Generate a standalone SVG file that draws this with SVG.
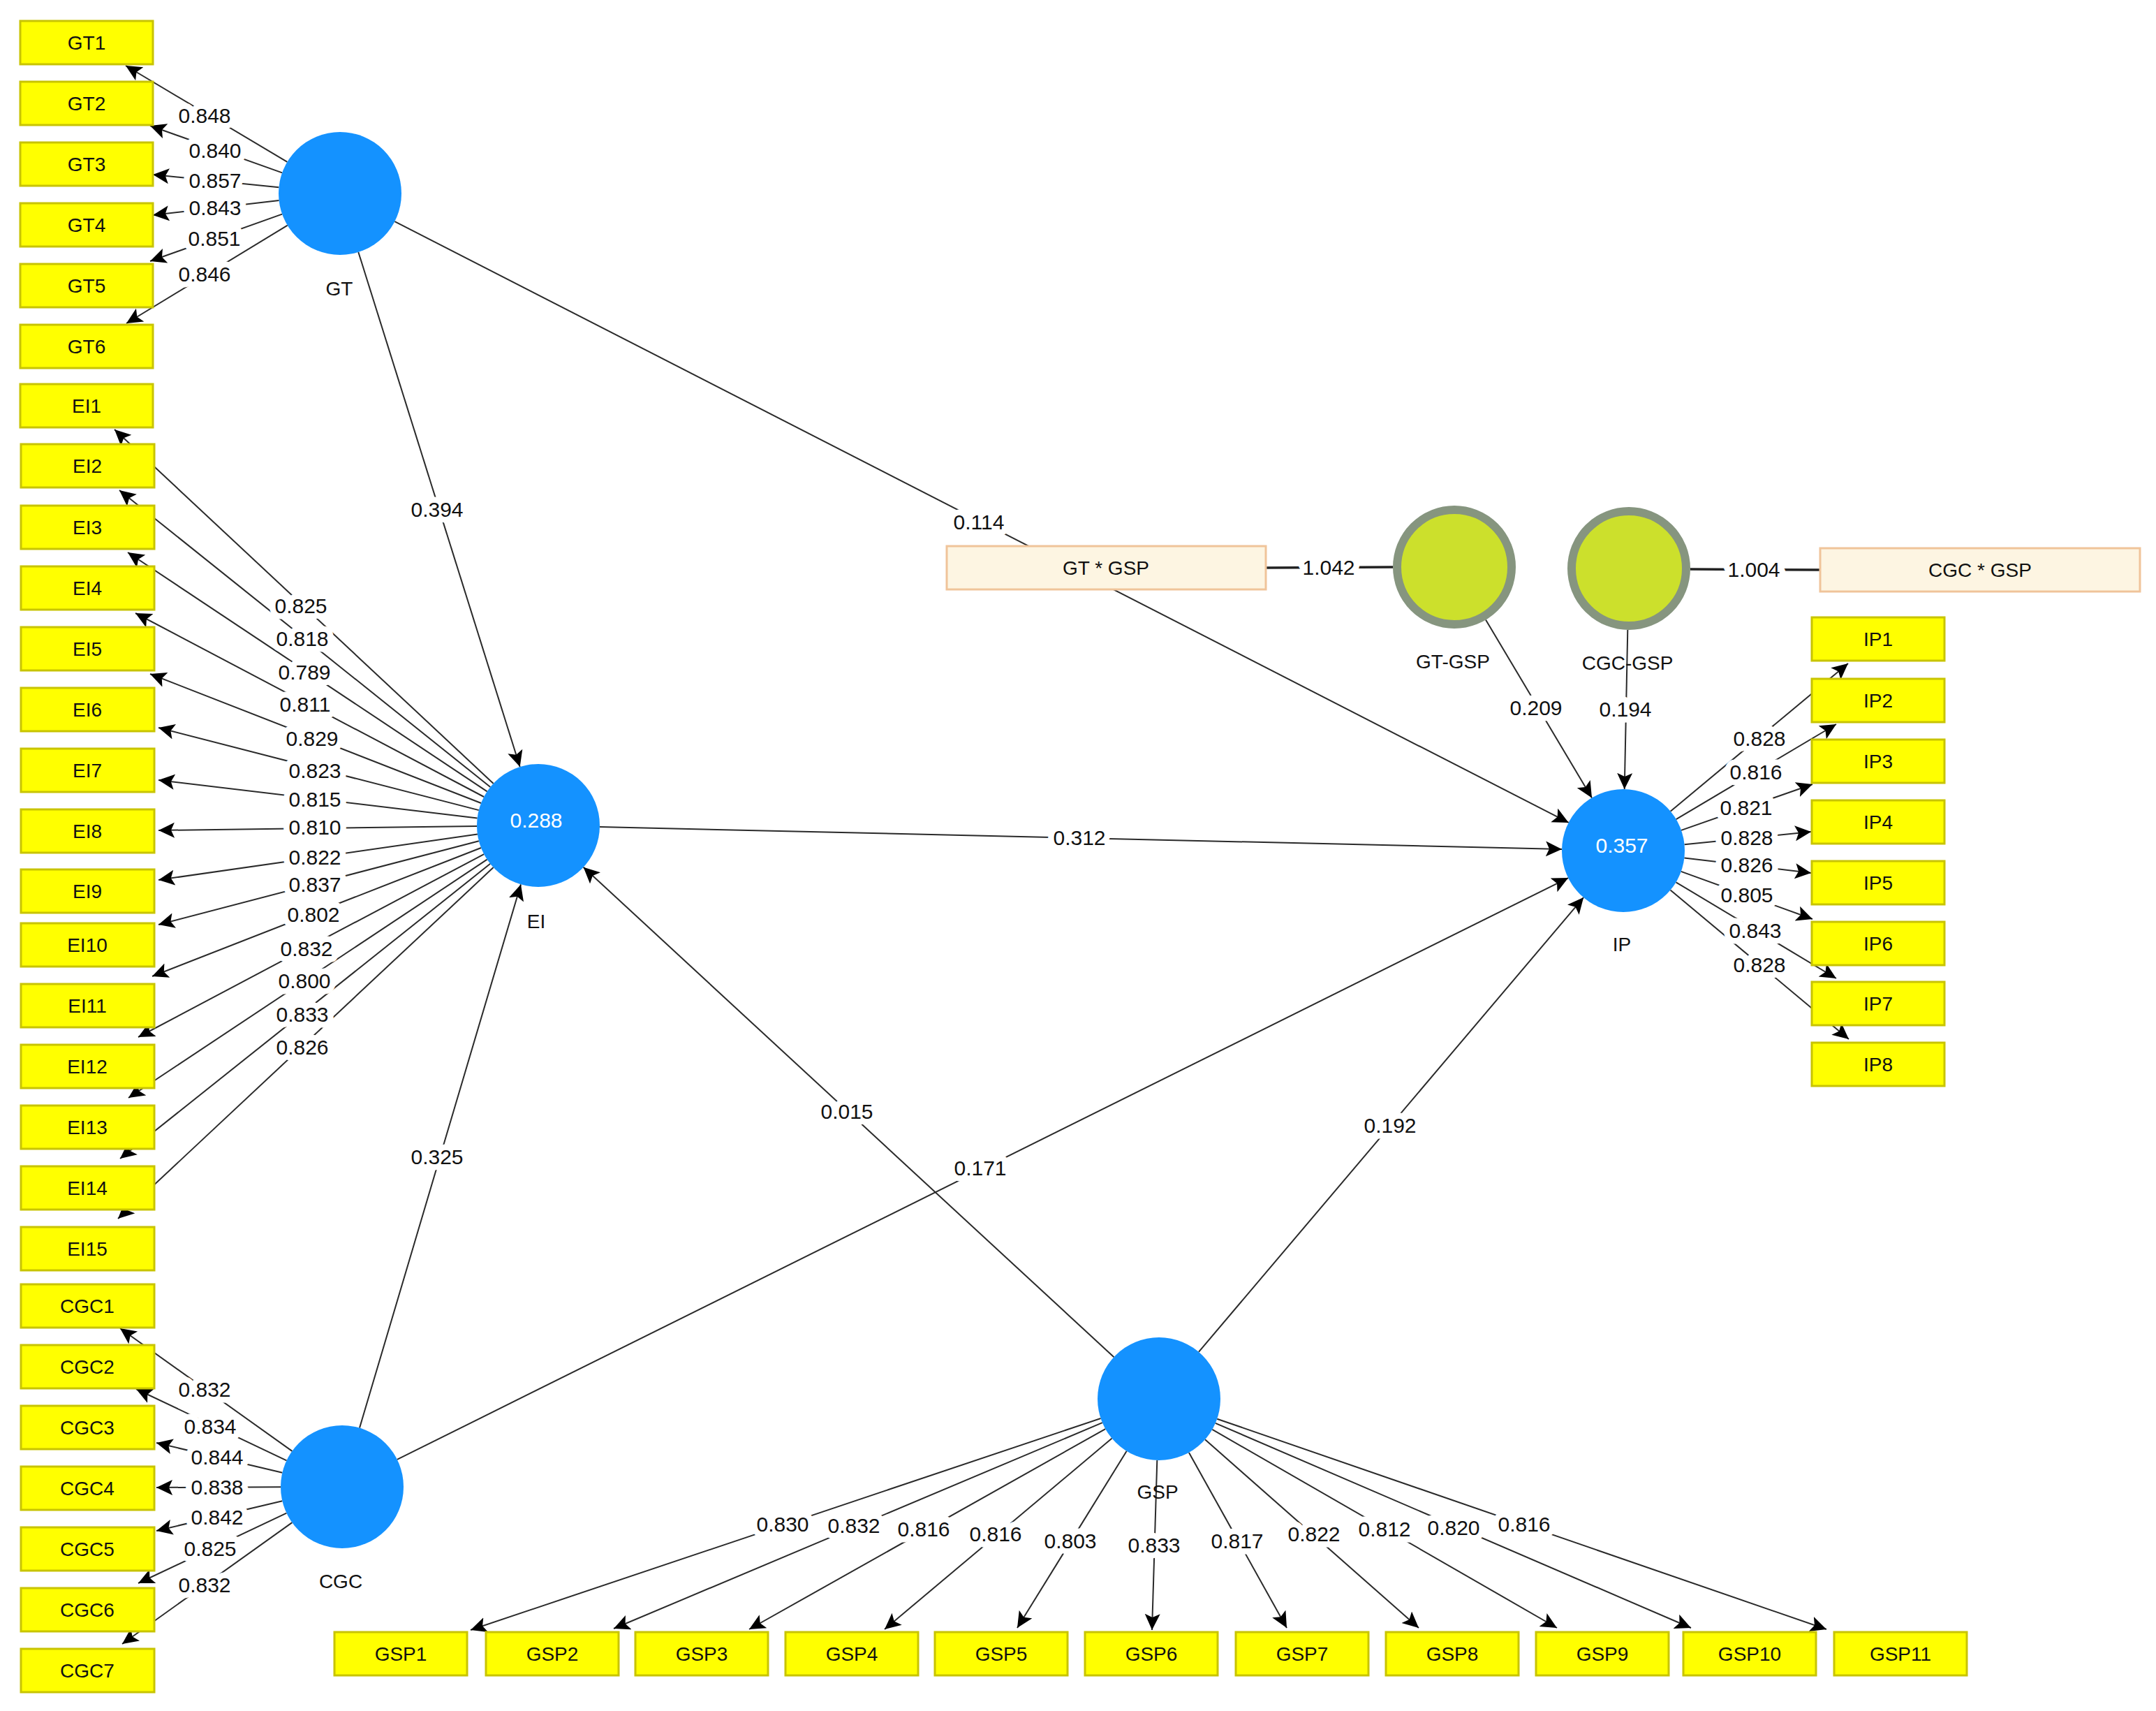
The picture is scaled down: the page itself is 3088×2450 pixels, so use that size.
<svg xmlns="http://www.w3.org/2000/svg" width="3088" height="2450" viewBox="0 0 3088 2450">
<style>
.ln{stroke:#2a2a2a;stroke-width:2;fill:none}
.lt{stroke:#222;stroke-width:3.5;fill:none}
.box rect{fill:#FFFF00;stroke:#C8C400;stroke-width:3}
.box text,.lat text,.mod text{font-family:"Liberation Sans",Arial,sans-serif;font-size:28px;font-weight:normal;fill:#111;text-anchor:middle}
.lat circle{fill:#1492FF}
.lat .v{fill:#fff;font-size:30px}
.mod circle{fill:#CCE02C;stroke:#86957F;stroke-width:12}
.ib rect{fill:#FDF5E2;stroke:#F0C49A;stroke-width:3}
.n{font-family:"Liberation Sans",Arial,sans-serif;font-size:30px;fill:#111;text-anchor:middle;stroke:#fff;stroke-width:17;stroke-linejoin:round;paint-order:stroke}
</style>
<defs>
<marker id="a" markerUnits="userSpaceOnUse" markerWidth="26" markerHeight="24" refX="23" refY="11" orient="auto"><path d="M0,0 L23,11 L0,22 L5,11 z" fill="#000"/></marker>
</defs>
<rect width="3088" height="2450" fill="#fff"/>
<g id="connectors">
<line class="ln" x1="411.4" y1="231.9" x2="180" y2="94" marker-end="url(#a)"/>
<line class="ln" x1="404.1" y1="247.4" x2="215" y2="180" marker-end="url(#a)"/>
<line class="ln" x1="399.4" y1="268.2" x2="219" y2="250" marker-end="url(#a)"/>
<line class="ln" x1="399.6" y1="287.1" x2="219" y2="308" marker-end="url(#a)"/>
<line class="ln" x1="404.1" y1="306.6" x2="215" y2="374" marker-end="url(#a)"/>
<line class="ln" x1="411.8" y1="322.7" x2="181" y2="463" marker-end="url(#a)"/>
<line class="ln" x1="706.7" y1="1121.9" x2="164" y2="615" marker-end="url(#a)"/>
<line class="ln" x1="702.3" y1="1127" x2="171" y2="702" marker-end="url(#a)"/>
<line class="ln" x1="697.7" y1="1133.3" x2="183" y2="791" marker-end="url(#a)"/>
<line class="ln" x1="693.1" y1="1141" x2="194" y2="878" marker-end="url(#a)"/>
<line class="ln" x1="689" y1="1150" x2="215" y2="965" marker-end="url(#a)"/>
<line class="ln" x1="685.8" y1="1160.1" x2="227" y2="1042" marker-end="url(#a)"/>
<line class="ln" x1="683.6" y1="1171.6" x2="227" y2="1117" marker-end="url(#a)"/>
<line class="ln" x1="683" y1="1183.1" x2="227" y2="1189" marker-end="url(#a)"/>
<line class="ln" x1="683.9" y1="1194.5" x2="227" y2="1260" marker-end="url(#a)"/>
<line class="ln" x1="685.9" y1="1204.2" x2="227" y2="1324" marker-end="url(#a)"/>
<line class="ln" x1="689" y1="1214" x2="218" y2="1398" marker-end="url(#a)"/>
<line class="ln" x1="693.2" y1="1223.1" x2="198" y2="1485" marker-end="url(#a)"/>
<line class="ln" x1="697.7" y1="1230.7" x2="184" y2="1572" marker-end="url(#a)"/>
<line class="ln" x1="702.2" y1="1236.8" x2="172" y2="1659" marker-end="url(#a)"/>
<line class="ln" x1="706.7" y1="1242.1" x2="169" y2="1745" marker-end="url(#a)"/>
<line class="ln" x1="418.4" y1="2077.9" x2="172" y2="1902" marker-end="url(#a)"/>
<line class="ln" x1="410.5" y1="2091.3" x2="195" y2="1989" marker-end="url(#a)"/>
<line class="ln" x1="404.4" y1="2108.7" x2="224" y2="2066" marker-end="url(#a)"/>
<line class="ln" x1="402" y1="2129.3" x2="224" y2="2130" marker-end="url(#a)"/>
<line class="ln" x1="404.4" y1="2149.3" x2="224" y2="2192" marker-end="url(#a)"/>
<line class="ln" x1="410.4" y1="2166.6" x2="198" y2="2267" marker-end="url(#a)"/>
<line class="ln" x1="418.4" y1="2180.1" x2="175" y2="2354" marker-end="url(#a)"/>
<line class="ln" x1="2392.6" y1="1161.7" x2="2647" y2="950" marker-end="url(#a)"/>
<line class="ln" x1="2400.7" y1="1173.1" x2="2630" y2="1037" marker-end="url(#a)"/>
<line class="ln" x1="2408" y1="1188.9" x2="2596" y2="1123" marker-end="url(#a)"/>
<line class="ln" x1="2412.6" y1="1209.2" x2="2594" y2="1191" marker-end="url(#a)"/>
<line class="ln" x1="2412.4" y1="1228.4" x2="2594" y2="1250" marker-end="url(#a)"/>
<line class="ln" x1="2407.7" y1="1247.9" x2="2596" y2="1316" marker-end="url(#a)"/>
<line class="ln" x1="2400.5" y1="1263.3" x2="2630" y2="1401" marker-end="url(#a)"/>
<line class="ln" x1="2392.5" y1="1274.4" x2="2648" y2="1488" marker-end="url(#a)"/>
<line class="ln" x1="1576.6" y1="2031" x2="674" y2="2334" marker-end="url(#a)"/>
<line class="ln" x1="1578.9" y1="2037.2" x2="879" y2="2332" marker-end="url(#a)"/>
<line class="ln" x1="1583.3" y1="2046.1" x2="1073" y2="2333" marker-end="url(#a)"/>
<line class="ln" x1="1592.6" y1="2059.6" x2="1267" y2="2333" marker-end="url(#a)"/>
<line class="ln" x1="1613.7" y1="2077.8" x2="1457" y2="2331" marker-end="url(#a)"/>
<line class="ln" x1="1657.3" y1="2091" x2="1650" y2="2334" marker-end="url(#a)"/>
<line class="ln" x1="1702.9" y1="2079.9" x2="1843" y2="2331" marker-end="url(#a)"/>
<line class="ln" x1="1726" y1="2061.2" x2="2032" y2="2331" marker-end="url(#a)"/>
<line class="ln" x1="1736.3" y1="2046.9" x2="2230" y2="2331" marker-end="url(#a)"/>
<line class="ln" x1="1740.8" y1="2037.8" x2="2422" y2="2331" marker-end="url(#a)"/>
<line class="ln" x1="1743.2" y1="2031.7" x2="2616" y2="2333" marker-end="url(#a)"/>
<line class="ln" x1="513.3" y1="361" x2="744.7" y2="1098" marker-end="url(#a)"/>
<line class="ln" x1="565.3" y1="317.1" x2="2246.7" y2="1177.9" marker-end="url(#a)"/>
<line class="ln" x1="515" y1="2044.6" x2="746" y2="1266.4" marker-end="url(#a)"/>
<line class="ln" x1="568.8" y1="2089.9" x2="2246.2" y2="1257.1" marker-end="url(#a)"/>
<line class="ln" x1="1595.4" y1="1943.3" x2="835.6" y2="1241.7" marker-end="url(#a)"/>
<line class="ln" x1="1716.9" y1="1935.9" x2="2268.1" y2="1285.1" marker-end="url(#a)"/>
<line class="ln" x1="859" y1="1184" x2="2237" y2="1216" marker-end="url(#a)"/>
<line class="ln" x1="2128" y1="887.6" x2="2280" y2="1142.4" marker-end="url(#a)"/>
<line class="ln" x1="2331.3" y1="902" x2="2326.7" y2="1130" marker-end="url(#a)"/>
<line class="lt" x1="1813" y1="813" x2="1995" y2="812"/>
<line class="lt" x1="2421" y1="815" x2="2607" y2="816"/>
</g>
<g id="labels">
<text class="n" x="293" y="176">0.848</text>
<text class="n" x="308" y="226">0.840</text>
<text class="n" x="308" y="269">0.857</text>
<text class="n" x="308" y="308">0.843</text>
<text class="n" x="307" y="352">0.851</text>
<text class="n" x="293" y="403">0.846</text>
<text class="n" x="431" y="878">0.825</text>
<text class="n" x="433" y="925">0.818</text>
<text class="n" x="436" y="973">0.789</text>
<text class="n" x="437" y="1019">0.811</text>
<text class="n" x="447" y="1068">0.829</text>
<text class="n" x="451" y="1114">0.823</text>
<text class="n" x="451" y="1155">0.815</text>
<text class="n" x="451" y="1195">0.810</text>
<text class="n" x="451" y="1238">0.822</text>
<text class="n" x="451" y="1277">0.837</text>
<text class="n" x="449" y="1320">0.802</text>
<text class="n" x="439" y="1369">0.832</text>
<text class="n" x="436" y="1415">0.800</text>
<text class="n" x="433" y="1463">0.833</text>
<text class="n" x="433" y="1510">0.826</text>
<text class="n" x="293" y="2000">0.832</text>
<text class="n" x="301" y="2053">0.834</text>
<text class="n" x="311" y="2097">0.844</text>
<text class="n" x="311" y="2140">0.838</text>
<text class="n" x="311" y="2183">0.842</text>
<text class="n" x="301" y="2228">0.825</text>
<text class="n" x="293" y="2280">0.832</text>
<text class="n" x="2520" y="1068">0.828</text>
<text class="n" x="2515" y="1116">0.816</text>
<text class="n" x="2501" y="1167">0.821</text>
<text class="n" x="2502" y="1210">0.828</text>
<text class="n" x="2502" y="1249">0.826</text>
<text class="n" x="2502" y="1292">0.805</text>
<text class="n" x="2514" y="1343">0.843</text>
<text class="n" x="2520" y="1392">0.828</text>
<text class="n" x="1121" y="2193">0.830</text>
<text class="n" x="1223" y="2195">0.832</text>
<text class="n" x="1323" y="2200">0.816</text>
<text class="n" x="1426" y="2207">0.816</text>
<text class="n" x="1533" y="2217">0.803</text>
<text class="n" x="1653" y="2223">0.833</text>
<text class="n" x="1772" y="2217">0.817</text>
<text class="n" x="1882" y="2207">0.822</text>
<text class="n" x="1983" y="2200">0.812</text>
<text class="n" x="2082" y="2198">0.820</text>
<text class="n" x="2183" y="2193">0.816</text>
<text class="n" x="626" y="740">0.394</text>
<text class="n" x="1402" y="758">0.114</text>
<text class="n" x="626" y="1667">0.325</text>
<text class="n" x="1404" y="1683">0.171</text>
<text class="n" x="1213" y="1602">0.015</text>
<text class="n" x="1991" y="1622">0.192</text>
<text class="n" x="1546" y="1210">0.312</text>
<text class="n" x="2200" y="1024">0.209</text>
<text class="n" x="2328" y="1026">0.194</text>
<text class="n" x="1903" y="823">1.042</text>
<text class="n" x="2512" y="826">1.004</text>
</g>
<g id="GT1" class="box"><rect x="29" y="30" width="190" height="62"/><text x="124" y="71">GT1</text></g>
<g id="GT2" class="box"><rect x="29" y="117" width="190" height="62"/><text x="124" y="158">GT2</text></g>
<g id="GT3" class="box"><rect x="29" y="204" width="190" height="62"/><text x="124" y="245">GT3</text></g>
<g id="GT4" class="box"><rect x="29" y="291" width="190" height="62"/><text x="124" y="332">GT4</text></g>
<g id="GT5" class="box"><rect x="29" y="378" width="190" height="62"/><text x="124" y="419">GT5</text></g>
<g id="GT6" class="box"><rect x="29" y="465" width="190" height="62"/><text x="124" y="506">GT6</text></g>
<g id="EI1" class="box"><rect x="29" y="550" width="190" height="62"/><text x="124" y="591">EI1</text></g>
<g id="EI2" class="box"><rect x="30" y="636" width="191" height="62"/><text x="125" y="677">EI2</text></g>
<g id="EI3" class="box"><rect x="30" y="724" width="191" height="62"/><text x="125" y="765">EI3</text></g>
<g id="EI4" class="box"><rect x="30" y="811" width="191" height="62"/><text x="125" y="852">EI4</text></g>
<g id="EI5" class="box"><rect x="30" y="898" width="191" height="62"/><text x="125" y="939">EI5</text></g>
<g id="EI6" class="box"><rect x="30" y="985" width="191" height="62"/><text x="125" y="1026">EI6</text></g>
<g id="EI7" class="box"><rect x="30" y="1072" width="191" height="62"/><text x="125" y="1113">EI7</text></g>
<g id="EI8" class="box"><rect x="30" y="1159" width="191" height="62"/><text x="125" y="1200">EI8</text></g>
<g id="EI9" class="box"><rect x="30" y="1245" width="191" height="62"/><text x="125" y="1286">EI9</text></g>
<g id="EI10" class="box"><rect x="30" y="1322" width="191" height="62"/><text x="125" y="1363">EI10</text></g>
<g id="EI11" class="box"><rect x="30" y="1409" width="191" height="62"/><text x="125" y="1450">EI11</text></g>
<g id="EI12" class="box"><rect x="30" y="1496" width="191" height="62"/><text x="125" y="1537">EI12</text></g>
<g id="EI13" class="box"><rect x="30" y="1583" width="191" height="62"/><text x="125" y="1624">EI13</text></g>
<g id="EI14" class="box"><rect x="30" y="1670" width="191" height="62"/><text x="125" y="1711">EI14</text></g>
<g id="EI15" class="box"><rect x="30" y="1757" width="191" height="62"/><text x="125" y="1798">EI15</text></g>
<g id="CGC1" class="box"><rect x="30" y="1839" width="191" height="62"/><text x="125" y="1880">CGC1</text></g>
<g id="CGC2" class="box"><rect x="30" y="1926" width="191" height="62"/><text x="125" y="1967">CGC2</text></g>
<g id="CGC3" class="box"><rect x="30" y="2013" width="191" height="62"/><text x="125" y="2054">CGC3</text></g>
<g id="CGC4" class="box"><rect x="30" y="2100" width="191" height="62"/><text x="125" y="2141">CGC4</text></g>
<g id="CGC5" class="box"><rect x="30" y="2187" width="191" height="62"/><text x="125" y="2228">CGC5</text></g>
<g id="CGC6" class="box"><rect x="30" y="2274" width="191" height="62"/><text x="125" y="2315">CGC6</text></g>
<g id="CGC7" class="box"><rect x="30" y="2361" width="191" height="62"/><text x="125" y="2402">CGC7</text></g>
<g id="IP1" class="box"><rect x="2595" y="884" width="190" height="62"/><text x="2690" y="925">IP1</text></g>
<g id="IP2" class="box"><rect x="2595" y="972" width="190" height="62"/><text x="2690" y="1013">IP2</text></g>
<g id="IP3" class="box"><rect x="2595" y="1059" width="190" height="62"/><text x="2690" y="1100">IP3</text></g>
<g id="IP4" class="box"><rect x="2595" y="1146" width="190" height="62"/><text x="2690" y="1187">IP4</text></g>
<g id="IP5" class="box"><rect x="2595" y="1233" width="190" height="62"/><text x="2690" y="1274">IP5</text></g>
<g id="IP6" class="box"><rect x="2595" y="1320" width="190" height="62"/><text x="2690" y="1361">IP6</text></g>
<g id="IP7" class="box"><rect x="2595" y="1406" width="190" height="62"/><text x="2690" y="1447">IP7</text></g>
<g id="IP8" class="box"><rect x="2595" y="1493" width="190" height="62"/><text x="2690" y="1534">IP8</text></g>
<g id="GSP1" class="box"><rect x="479" y="2337" width="190" height="62"/><text x="574" y="2378">GSP1</text></g>
<g id="GSP2" class="box"><rect x="696" y="2337" width="190" height="62"/><text x="791" y="2378">GSP2</text></g>
<g id="GSP3" class="box"><rect x="910" y="2337" width="190" height="62"/><text x="1005" y="2378">GSP3</text></g>
<g id="GSP4" class="box"><rect x="1125" y="2337" width="190" height="62"/><text x="1220" y="2378">GSP4</text></g>
<g id="GSP5" class="box"><rect x="1339" y="2337" width="190" height="62"/><text x="1434" y="2378">GSP5</text></g>
<g id="GSP6" class="box"><rect x="1554" y="2337" width="190" height="62"/><text x="1649" y="2378">GSP6</text></g>
<g id="GSP7" class="box"><rect x="1770" y="2337" width="190" height="62"/><text x="1865" y="2378">GSP7</text></g>
<g id="GSP8" class="box"><rect x="1985" y="2337" width="190" height="62"/><text x="2080" y="2378">GSP8</text></g>
<g id="GSP9" class="box"><rect x="2200" y="2337" width="190" height="62"/><text x="2295" y="2378">GSP9</text></g>
<g id="GSP10" class="box"><rect x="2411" y="2337" width="190" height="62"/><text x="2506" y="2378">GSP10</text></g>
<g id="GSP11" class="box"><rect x="2627" y="2337" width="190" height="62"/><text x="2722" y="2378">GSP11</text></g>
<g id="GTxGSP" class="ib box"><rect x="1356" y="782" width="457" height="62"/><text x="1584" y="823">GT * GSP</text></g>
<g id="CGCxGSP" class="ib box"><rect x="2607" y="785" width="458" height="62"/><text x="2836" y="826">CGC * GSP</text></g>
<g id="GT" class="lat"><circle cx="487" cy="277" r="88"/><text x="486" y="423">GT</text></g>
<g id="EI" class="lat"><circle cx="771" cy="1182" r="88"/><text class="v" x="768" y="1185">0.288</text><text x="768" y="1329">EI</text></g>
<g id="CGC" class="lat"><circle cx="490" cy="2129" r="88"/><text x="488" y="2274">CGC</text></g>
<g id="IP" class="lat"><circle cx="2325" cy="1218" r="88"/><text class="v" x="2323" y="1221">0.357</text><text x="2323" y="1362">IP</text></g>
<g id="GSP" class="lat"><circle cx="1660" cy="2003" r="88"/><text x="1658" y="2146">GSP</text></g>
<g id="GT-GSP" class="mod"><circle cx="2083" cy="812" r="82"/><text x="2081" y="957">GT-GSP</text></g>
<g id="CGC-GSP" class="mod"><circle cx="2333" cy="814" r="82"/><text x="2331" y="959">CGC-GSP</text></g>
</svg>
